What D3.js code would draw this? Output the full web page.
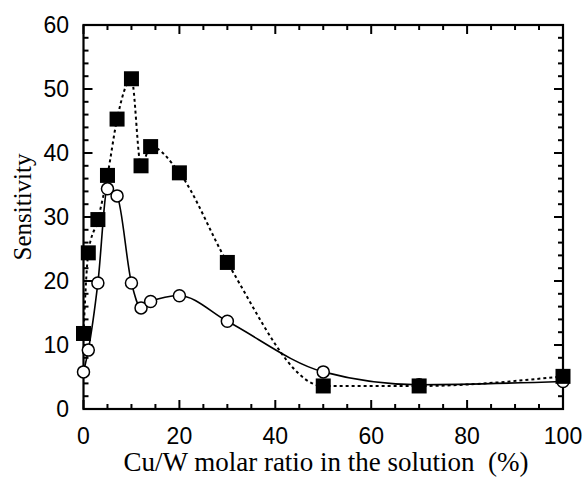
<!DOCTYPE html>
<html>
<head>
<meta charset="utf-8">
<script src="https://cdn.jsdelivr.net/npm/d3@7"></script>
<style>
  html, body { margin: 0; padding: 0; background: #fff; }
  svg { display: block; }
</style>
</head>
<body>
<svg id="chart" width="586" height="477"></svg>
<script>
// ---- data ----
const ratio = [0, 1, 3, 5, 7, 10, 12, 14, 20, 30, 50, 70, 100];
const squareSeries = [11.8, 24.4, 29.6, 36.5, 45.3, 51.6, 38.0, 41.0, 36.9, 22.9, 3.6, 3.6, 5.1];
const circleSeries = [5.8, 9.2, 19.7, 34.4, 33.3, 19.7, 15.8, 16.8, 17.7, 13.7, 5.8, 3.8, 4.3];
const xTickLabels = [0, 20, 40, 60, 80, 100];
const yTickLabels = [0, 10, 20, 30, 40, 50, 60];

const svg = d3.select("#chart");
const L = 83.5, R = 563, T = 25, B = 409;
const x = d3.scaleLinear().domain([0, 100]).range([L, R]);
const y = d3.scaleLinear().domain([0, 60]).range([B, T]);

const g = svg.append("g");

const xMinor = d3.range(0, 101, 5);
const yMinor = d3.range(0, 61, 2);
const majLen = 9, minLen = 5;

function isMajorX(v) { return v % 20 === 0; }
function isMajorY(v) { return v % 10 === 0; }

g.selectAll(".xt").data(xMinor).enter().append("line")
  .attr("x1", d => x(d)).attr("x2", d => x(d))
  .attr("y1", B).attr("y2", d => B - (isMajorX(d) ? majLen : minLen))
  .attr("stroke", "#000").attr("stroke-width", 2);
g.selectAll(".xtt").data(xMinor).enter().append("line")
  .attr("x1", d => x(d)).attr("x2", d => x(d))
  .attr("y1", T).attr("y2", d => T + (isMajorX(d) ? majLen : minLen))
  .attr("stroke", "#000").attr("stroke-width", 2);
g.selectAll(".yt").data(yMinor).enter().append("line")
  .attr("y1", d => y(d)).attr("y2", d => y(d))
  .attr("x1", L).attr("x2", d => L + (isMajorY(d) ? majLen : minLen))
  .attr("stroke", "#000").attr("stroke-width", 2);
g.selectAll(".ytr").data(yMinor).enter().append("line")
  .attr("y1", d => y(d)).attr("y2", d => y(d))
  .attr("x1", R).attr("x2", d => R - (isMajorY(d) ? majLen : minLen))
  .attr("stroke", "#000").attr("stroke-width", 2);

g.append("rect").attr("x", L).attr("y", T).attr("width", R - L).attr("height", B - T)
  .attr("fill", "none").attr("stroke", "#000").attr("stroke-width", 2.2);

g.selectAll(".xl").data(xTickLabels).enter().append("text")
  .attr("x", d => x(d)).attr("y", 444)
  .attr("text-anchor", "middle")
  .attr("font-family", "Liberation Sans, Arial, sans-serif").attr("font-size", 23)
  .text(d => d);
g.selectAll(".yl").data(yTickLabels).enter().append("text")
  .attr("x", 69).attr("y", d => y(d) + 8)
  .attr("text-anchor", "end")
  .attr("font-family", "Liberation Sans, Arial, sans-serif").attr("font-size", 23)
  .text(d => d);

svg.append("text")
  .attr("x", 326).attr("y", 471)
  .attr("text-anchor", "middle")
  .attr("font-family", "Liberation Serif, Times New Roman, serif").attr("font-size", 27)
  .style("white-space", "pre")
  .text("Cu/W molar ratio in the solution  (%)");
svg.append("text")
  .attr("transform", "translate(31,207) rotate(-90)")
  .attr("text-anchor", "middle")
  .attr("font-family", "Liberation Serif, Times New Roman, serif").attr("font-size", 25)
  .text("Sensitivity");

const sqData = ratio.map((r, i) => [r, squareSeries[i]]);
const ciData = ratio.map((r, i) => [r, circleSeries[i]]);

const sqLine = d3.line().x(d => x(d[0])).y(d => y(d[1])).curve(d3.curveMonotoneX);
const ciLine = d3.line().x(d => x(d[0])).y(d => y(d[1])).curve(d3.curveMonotoneX);

g.append("path").attr("d", sqLine(sqData))
  .attr("fill", "none").attr("stroke", "#000").attr("stroke-width", 2)
  .attr("stroke-dasharray", "3,3");
g.append("path").attr("d", ciLine(ciData))
  .attr("fill", "none").attr("stroke", "#000").attr("stroke-width", 1.6);

g.selectAll(".ci").data(ciData).enter().append("circle")
  .attr("cx", d => x(d[0])).attr("cy", d => y(d[1])).attr("r", 6)
  .attr("fill", "#fff").attr("stroke", "#000").attr("stroke-width", 1.5);
const s = 15;
g.selectAll(".sq").data(sqData).enter().append("rect")
  .attr("x", d => x(d[0]) - s / 2).attr("y", d => y(d[1]) - s / 2)
  .attr("width", s).attr("height", s)
  .attr("fill", "#000");
</script>
</body>
</html>
